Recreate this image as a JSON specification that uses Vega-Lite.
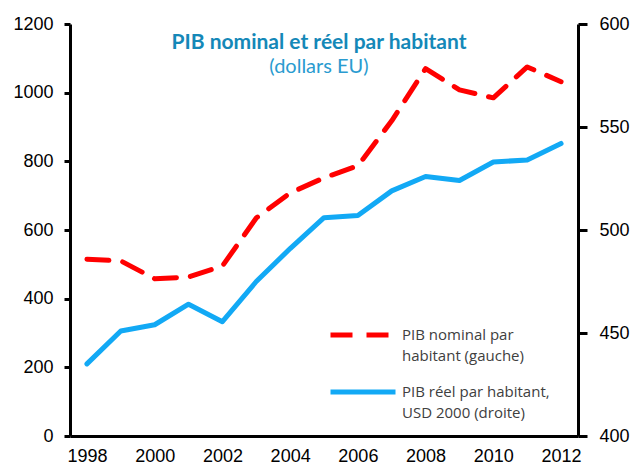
{
  "$schema": "https://vega.github.io/schema/vega-lite/v6.json",
  "width": 508,
  "height": 412,
  "autosize": "none",
  "padding": {"left": 70, "top": 24, "right": 57, "bottom": 32},
  "background": "white",
  "config": {
    "view": {"stroke": null},
    "axis": {
      "grid": false,
      "domainColor": "black",
      "domainWidth": 3,
      "tickColor": "black",
      "tickWidth": 3,
      "labelFont": "Liberation Sans",
      "labelFontSize": 18,
      "labelColor": "black",
      "title": null
    },
    "legend": {
      "orient": "none",
      "title": null,
      "symbolType": "stroke",
      "symbolSize": 4225,
      "symbolStrokeWidth": 5,
      "labelFont": "Open Sans",
      "labelFontSize": 15,
      "labelColor": "#404040",
      "labelLimit": 300,
      "labelOffset": 4
    }
  },
  "title": {
    "text": "PIB nominal et réel par habitant",
    "subtitle": "(dollars EU)",
    "anchor": "middle",
    "frame": "group",
    "offset": -62,
    "dx": -5,
    "font": "Lato",
    "fontSize": 21,
    "fontWeight": "bold",
    "color": "#1488b8",
    "subtitleFont": "Lato",
    "subtitleFontSize": 20,
    "subtitleColor": "#2a9bd0",
    "subtitlePadding": 4
  },
  "data": {
    "values": [
      {"year": 1998, "series": "nom", "value": 515},
      {"year": 1999, "series": "nom", "value": 510},
      {"year": 2000, "series": "nom", "value": 458},
      {"year": 2001, "series": "nom", "value": 463},
      {"year": 2002, "series": "nom", "value": 495},
      {"year": 2003, "series": "nom", "value": 635},
      {"year": 2004, "series": "nom", "value": 708},
      {"year": 2005, "series": "nom", "value": 752},
      {"year": 2006, "series": "nom", "value": 787},
      {"year": 2007, "series": "nom", "value": 918},
      {"year": 2008, "series": "nom", "value": 1070},
      {"year": 2009, "series": "nom", "value": 1008},
      {"year": 2010, "series": "nom", "value": 985},
      {"year": 2011, "series": "nom", "value": 1075},
      {"year": 2012, "series": "nom", "value": 1032},
      {"year": 1998, "series": "reel", "value": 435},
      {"year": 1999, "series": "reel", "value": 451},
      {"year": 2000, "series": "reel", "value": 454},
      {"year": 2001, "series": "reel", "value": 464},
      {"year": 2002, "series": "reel", "value": 455.5},
      {"year": 2003, "series": "reel", "value": 475},
      {"year": 2004, "series": "reel", "value": 491},
      {"year": 2005, "series": "reel", "value": 506},
      {"year": 2006, "series": "reel", "value": 507},
      {"year": 2007, "series": "reel", "value": 519},
      {"year": 2008, "series": "reel", "value": 526},
      {"year": 2009, "series": "reel", "value": 524},
      {"year": 2010, "series": "reel", "value": 533},
      {"year": 2011, "series": "reel", "value": 534},
      {"year": 2012, "series": "reel", "value": 542}
    ]
  },
  "encoding": {
    "x": {
      "field": "year",
      "type": "quantitative",
      "scale": {"domain": [1997.5, 2012.5], "nice": false, "zero": false},
      "axis": {"values": [1998, 2000, 2002, 2004, 2006, 2008, 2010, 2012], "format": "d", "ticks": false, "labelPadding": 11}
    }
  },
  "layer": [
    {
      "transform": [{"filter": "datum.series == 'nom'"}],
      "mark": {"type": "line", "strokeWidth": 5, "strokeCap": "round", "strokeJoin": "round"},
      "encoding": {
        "y": {
          "field": "value",
          "type": "quantitative",
          "scale": {"domain": [0, 1200], "nice": false},
          "axis": {"orient": "left", "values": [0, 200, 400, 600, 800, 1000, 1200], "format": "d", "tickSize": 6, "labelPadding": 11}
        },
        "color": {
          "field": "series",
          "type": "nominal",
          "scale": {"domain": ["nom"], "range": ["#ff0000"]},
          "legend": {
            "legendX": 258,
            "legendY": 276,
            "labelExpr": "['PIB nominal  par', 'habitant (gauche)']",
            "encode": {"labels": {"update": {"lineHeight": {"value": 21}}}}
          }
        },
        "strokeDash": {
          "field": "series",
          "type": "nominal",
          "scale": {"domain": ["nom"], "range": [[22, 14]]}
        }
      }
    },
    {
      "transform": [{"filter": "datum.series == 'reel'"}],
      "mark": {"type": "line", "strokeWidth": 5, "strokeCap": "round", "strokeJoin": "round"},
      "encoding": {
        "y": {
          "field": "value",
          "type": "quantitative",
          "scale": {"domain": [400, 600], "nice": false, "zero": false},
          "axis": {"orient": "right", "values": [400, 450, 500, 550, 600], "format": "d", "tickSize": 9, "labelPadding": 12}
        },
        "color": {
          "field": "series",
          "type": "nominal",
          "scale": {"domain": ["reel"], "range": ["#12a9f5"]},
          "legend": {
            "legendX": 258,
            "legendY": 333,
            "labelExpr": "['PIB réel par habitant,', 'USD 2000 (droite)']",
            "encode": {"labels": {"update": {"lineHeight": {"value": 21}}}}
          }
        }
      }
    }
  ],
  "resolve": {"scale": {"y": "independent", "color": "independent", "strokeDash": "independent"}, "legend": {"color": "independent", "strokeDash": "independent"}}
}
